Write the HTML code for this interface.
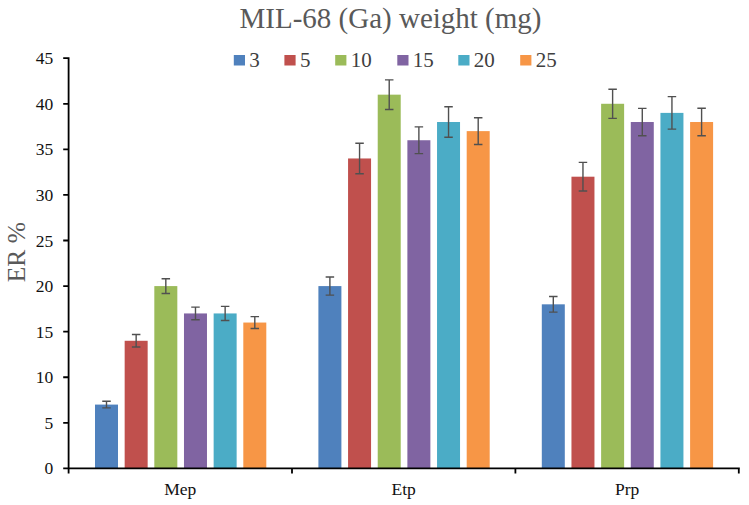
<!DOCTYPE html>
<html><head><meta charset="utf-8"><style>
html,body{margin:0;padding:0;background:#fff;}
svg{display:block;}
text{font-family:"Liberation Serif",serif;}
</style></head><body>
<svg width="749" height="505" viewBox="0 0 749 505">
<rect width="749" height="505" fill="#fff"/>
<text x="390.5" y="27.5" text-anchor="middle" font-size="29" fill="#595959">MIL-68 (Ga) weight (mg)</text>
<g font-size="21" fill="#404040"><rect x="233.8" y="55" width="11.2" height="10.5" fill="#4F81BD"/><text x="249.3" y="66.6">3</text><rect x="284.4" y="55" width="11.2" height="10.5" fill="#C0504D"/><text x="299.9" y="66.6">5</text><rect x="335.2" y="55" width="11.2" height="10.5" fill="#9BBB59"/><text x="350.7" y="66.6">10</text><rect x="397.3" y="55" width="11.2" height="10.5" fill="#8064A2"/><text x="412.8" y="66.6">15</text><rect x="458.3" y="55" width="11.2" height="10.5" fill="#4BACC6"/><text x="473.8" y="66.6">20</text><rect x="520.2" y="55" width="11.2" height="10.5" fill="#F79646"/><text x="535.7" y="66.6">25</text></g>
<text transform="translate(24.6,252.2) rotate(-90)" text-anchor="middle" font-size="25.5" fill="#595959">ER %</text>
<rect x="95.00" y="404.59" width="23" height="63.81" fill="#4F81BD"/><rect x="124.66" y="340.78" width="23" height="127.62" fill="#C0504D"/><rect x="154.32" y="286.09" width="23" height="182.31" fill="#9BBB59"/><rect x="183.98" y="313.44" width="23" height="154.96" fill="#8064A2"/><rect x="213.64" y="313.44" width="23" height="154.96" fill="#4BACC6"/><rect x="243.30" y="322.55" width="23" height="145.85" fill="#F79646"/><rect x="318.40" y="286.09" width="23" height="182.31" fill="#4F81BD"/><rect x="348.06" y="158.47" width="23" height="309.93" fill="#C0504D"/><rect x="377.72" y="94.66" width="23" height="373.74" fill="#9BBB59"/><rect x="407.38" y="140.24" width="23" height="328.16" fill="#8064A2"/><rect x="437.04" y="122.01" width="23" height="346.39" fill="#4BACC6"/><rect x="466.70" y="131.12" width="23" height="337.28" fill="#F79646"/><rect x="541.80" y="304.32" width="23" height="164.08" fill="#4F81BD"/><rect x="571.46" y="176.70" width="23" height="291.70" fill="#C0504D"/><rect x="601.12" y="103.78" width="23" height="364.62" fill="#9BBB59"/><rect x="630.78" y="122.01" width="23" height="346.39" fill="#8064A2"/><rect x="660.44" y="112.89" width="23" height="355.51" fill="#4BACC6"/><rect x="690.10" y="122.01" width="23" height="346.39" fill="#F79646"/>
<g stroke="#505050" stroke-width="1.4" fill="none"><path d="M106.50 401.31V407.87M102.25 401.31H110.75M102.25 407.87H110.75"/><path d="M136.16 334.49V347.07M131.91 334.49H140.41M131.91 347.07H140.41"/><path d="M165.82 278.71V293.47M161.57 278.71H170.07M161.57 293.47H170.07"/><path d="M195.48 307.15V319.73M191.23 307.15H199.73M191.23 319.73H199.73"/><path d="M225.14 306.33V320.55M220.89 306.33H229.39M220.89 320.55H229.39"/><path d="M254.80 316.63V328.48M250.55 316.63H259.05M250.55 328.48H259.05"/><path d="M329.90 277.06V295.11M325.65 277.06H334.15M325.65 295.11H334.15"/><path d="M359.56 143.25V173.69M355.31 143.25H363.81M355.31 173.69H363.81"/><path d="M389.22 79.90V109.43M384.97 79.90H393.47M384.97 109.43H393.47"/><path d="M418.88 126.84V153.64M414.63 126.84H423.13M414.63 153.64H423.13"/><path d="M448.54 106.69V137.32M444.29 106.69H452.79M444.29 137.32H452.79"/><path d="M478.20 117.72V144.52M473.95 117.72H482.45M473.95 144.52H482.45"/><path d="M553.30 296.48V312.16M549.05 296.48H557.55M549.05 312.16H557.55"/><path d="M582.96 162.39V191.01M578.71 162.39H587.21M578.71 191.01H587.21"/><path d="M612.62 89.19V118.36M608.37 89.19H616.87M608.37 118.36H616.87"/><path d="M642.28 108.34V135.68M638.03 108.34H646.53M638.03 135.68H646.53"/><path d="M671.94 96.67V129.12M667.69 96.67H676.19M667.69 129.12H676.19"/><path d="M701.60 108.24V135.77M697.35 108.24H705.85M697.35 135.77H705.85"/></g>
<g stroke="#000" stroke-width="1.8" fill="none" stroke-linecap="butt">
<path d="M68.6 57.2V473.6M67.6 468.4H739.8M63.2 468.40H68.6M63.2 422.82H68.6M63.2 377.24H68.6M63.2 331.67H68.6M63.2 286.09H68.6M63.2 240.51H68.6M63.2 194.93H68.6M63.2 149.36H68.6M63.2 103.78H68.6M63.2 58.20H68.6M68.60 468.4V473.6M292.00 468.4V473.6M515.40 468.4V473.6M738.80 468.4V473.6"/>
</g>
<g font-size="17.5" fill="#111"><text x="53.3" y="474.40" text-anchor="end">0</text><text x="53.3" y="428.82" text-anchor="end">5</text><text x="53.3" y="383.24" text-anchor="end">10</text><text x="53.3" y="337.67" text-anchor="end">15</text><text x="53.3" y="292.09" text-anchor="end">20</text><text x="53.3" y="246.51" text-anchor="end">25</text><text x="53.3" y="200.93" text-anchor="end">30</text><text x="53.3" y="155.36" text-anchor="end">35</text><text x="53.3" y="109.78" text-anchor="end">40</text><text x="53.3" y="64.20" text-anchor="end">45</text></g>
<g font-size="17.5" fill="#111"><text x="180.30" y="494.8" text-anchor="middle">Mep</text><text x="403.70" y="494.8" text-anchor="middle">Etp</text><text x="627.10" y="494.8" text-anchor="middle">Prp</text></g>
</svg>
</body></html>
